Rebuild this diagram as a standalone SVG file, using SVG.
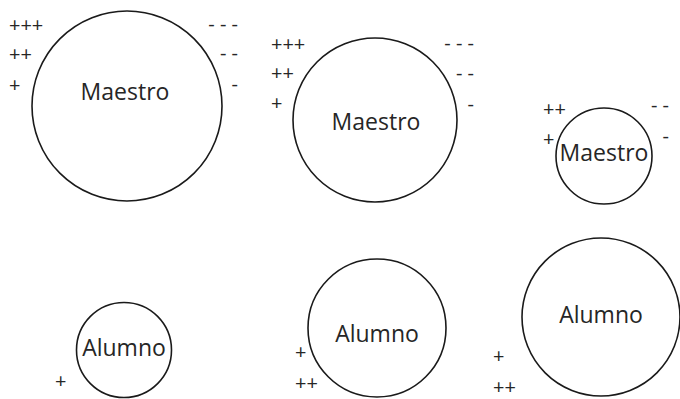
<svg xmlns="http://www.w3.org/2000/svg" width="680" height="399" viewBox="0 0 680 399">
<style>
.c{fill:#fff;stroke:#1a1a1a;stroke-width:1.6}
.t{font-family:"Open Sans","Noto Sans",sans-serif;font-size:23px;fill:#262626;text-anchor:middle}
.p{font-family:"Open Sans","Noto Sans",sans-serif;font-size:20px;fill:#262626}
.m{font-family:"Open Sans","Noto Sans",sans-serif;font-size:20px;fill:#262626;text-anchor:end;white-space:pre}
</style>
<rect width="680" height="399" fill="#fff"/>
<g id="maestro1">
<circle class="c" cx="127" cy="106" r="95"/>
<text class="t" x="125" y="100">Maestro</text>
<text class="p" x="9" y="32">+++</text>
<text class="p" x="9" y="61">++</text>
<text class="p" x="9" y="92">+</text>
<text class="m" x="238" y="31">- - -</text>
<text class="m" x="238" y="60">- -</text>
<text class="m" x="238" y="91">-</text>
</g>
<g id="maestro2">
<circle class="c" cx="375" cy="120" r="82"/>
<text class="t" x="376" y="130">Maestro</text>
<text class="p" x="271" y="51">+++</text>
<text class="p" x="271" y="80">++</text>
<text class="p" x="271" y="110">+</text>
<text class="m" x="474" y="50">- - -</text>
<text class="m" x="474" y="80">- -</text>
<text class="m" x="474" y="111">-</text>
</g>
<g id="maestro3">
<circle class="c" cx="604" cy="156" r="48"/>
<text class="t" x="604" y="161">Maestro</text>
<text class="p" x="543" y="116">++</text>
<text class="p" x="543" y="146">+</text>
<text class="m" x="669" y="112">- -</text>
<text class="m" x="669" y="143">-</text>
</g>
<g id="alumno1">
<circle class="c" cx="124" cy="350" r="47.5"/>
<text class="t" x="124" y="356">Alumno</text>
<text class="p" x="55" y="388">+</text>
</g>
<g id="alumno2">
<circle class="c" cx="377" cy="328" r="69"/>
<text class="t" x="377" y="342">Alumno</text>
<text class="p" x="295" y="359">+</text>
<text class="p" x="295" y="390">++</text>
</g>
<g id="alumno3">
<circle class="c" cx="601" cy="317" r="79"/>
<text class="t" x="601" y="323">Alumno</text>
<text class="p" x="493" y="363">+</text>
<text class="p" x="493" y="394">++</text>
</g>
<g id="connectors"/>
</svg>
